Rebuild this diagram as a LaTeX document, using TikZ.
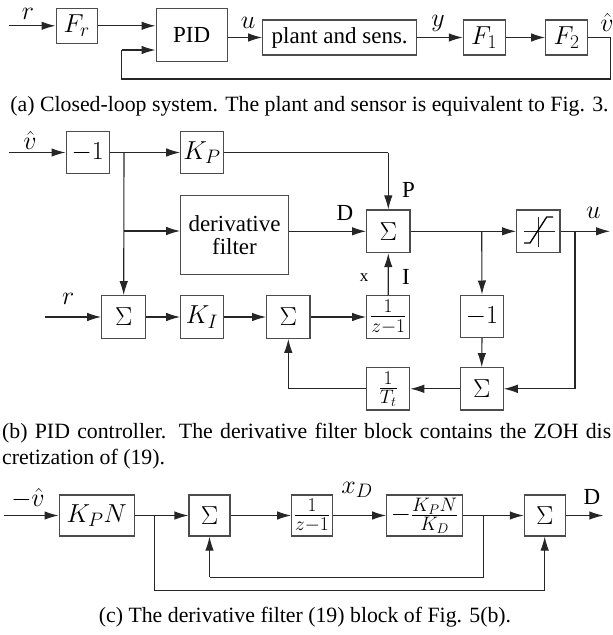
\RequirePackage{fix-cm}
\documentclass[tikz,border=0pt]{standalone}
\usepackage[no-math]{fontspec}
\setmainfont{Liberation Serif}
\DeclareMathSizes{23}{26}{19.5}{14}
\usetikzlibrary{arrows.meta}
\begin{document}
\begin{tikzpicture}[x=1pt,y=-1pt,
  font=\fontsize{23}{27}\selectfont,
  blk/.style={draw=black!70, line width=1.1pt, inner sep=0pt},
  conn/.style={line width=1.1pt, draw=black!85, -{Latex[length=14pt,width=8.5pt]}},
  wire/.style={line width=1.1pt, draw=black!85},
  lbl/.style={inner sep=0pt},
  captxt/.style={inner sep=0pt, font=\fontsize{21.8}{26}\selectfont}]
\useasboundingbox (0,0) rectangle (613,635);

% ---------------- panel (a)
\node[blk, minimum width=41.3pt, minimum height=35pt] (Fr) at (76.7,25.8) {$F_r$};
\node[blk, minimum width=71.3pt, minimum height=52.7pt] (PID) at (191.7,34.7) {PID};
\node[blk, minimum width=154pt, minimum height=35pt] (plant) at (339.7,37.5) {plant and sens.};
\node[blk, minimum width=41.7pt, minimum height=35pt] (F1) at (484.2,37.5) {$F_1$};
\node[blk, minimum width=41.6pt, minimum height=35pt] (F2) at (566.5,37.5) {$F_2$};
\coordinate (ain) at (9,25.8);
\coordinate (aR) at (610.7,37.5);
\coordinate (aRB) at (610.7,79);
\coordinate (aLB) at (121.7,79);
\coordinate (aLT) at (121.7,50);
\node[lbl] (lr) at (28,14) {$r$};
\node[lbl] (lu) at (248,23) {$u$};
\node[lbl] (ly) at (438,23) {$y$};
\node[lbl] (lvh) at (607,22) {$\hat{v}$};
\draw[conn] (ain) -- (Fr.west);
\draw[conn] (Fr.east) -- (Fr.east -| PID.west);
\draw[conn] (PID.east |- plant.west) -- (plant.west);
\draw[conn] (plant.east) -- (F1.west);
\draw[conn] (F1.east) -- (F2.west);
\draw[wire] (F2.east) -- (aR) -- (aRB) -- (aLB) -- (aLT);
\draw[conn] (aLT) -- (aLT -| PID.west);
\node[captxt] (capa) at (309.5,106) {(a) Closed-loop system. The plant and sensor is equivalent to Fig. 3.};

% ---------------- panel (b)
\node[blk, minimum width=43.3pt, minimum height=41.6pt] (m1) at (87.7,152.5) {$-1$};
\node[blk, minimum width=42.6pt, minimum height=41.6pt] (KP) at (202,152.5) {$K_P$};
\node[blk, minimum width=107.6pt, minimum height=78.7pt, align=center] (df) at (234.5,234.7) {derivative\\[-4pt]filter};
\node[blk, minimum width=43.3pt, minimum height=42.7pt] (Sm) at (388.3,231.3) {$\Sigma$};
\node[blk, minimum width=43.3pt, minimum height=42.7pt] (Sat) at (538.3,231.3) {};
\node[blk, minimum width=44pt, minimum height=42.6pt] (S1) at (123.7,317) {$\Sigma$};
\node[blk, minimum width=42.6pt, minimum height=42.6pt] (KI) at (202,317) {$K_I$};
\node[blk, minimum width=43.3pt, minimum height=42.6pt] (S2) at (288.3,317) {$\Sigma$};
\node[blk, minimum width=43pt, minimum height=42.6pt] (Z1) at (388.2,317) {$\frac{1}{z-1}$};
\node[blk, minimum width=42.6pt, minimum height=42.3pt] (m2) at (482,316.2) {$-1$};
\node[blk, minimum width=43pt, minimum height=42.3pt] (S3) at (481.7,388.8) {$\Sigma$};
\node[blk, minimum width=43pt, minimum height=42.3pt] (Tt) at (388.2,388.8) {$\frac{1}{T_t}$};
% saturation symbol
\draw[line width=1pt, black!85] (524,231.3) -- (555,231.3);
\draw[line width=1pt, black!85] (538.5,216.5) -- (538.5,246.5);
\draw[line width=1.3pt, black] (524,243) -- (530,243) -- (546.7,217) -- (553,217);

\coordinate (bin) at (9.3,152.5);
\coordinate (bbr) at (124,152.5);
\coordinate (bbr2) at (124,231);
\coordinate (bKPc) at (388.3,152.5);
\coordinate (bsbr) at (481.7,231.3);
\coordinate (bout) at (610,231.3);
\coordinate (bubr) at (575,231.3);
\coordinate (bub) at (575,388.8);
\coordinate (brin) at (45,317);
\coordinate (btt) at (288.3,388.8);
\node[lbl] (lvb) at (30,140) {$\hat{v}$};
\node[lbl] (lP) at (408.5,190) {P};
\node[lbl] (lD) at (345,213) {D};
\node[lbl] (lub) at (593.3,213) {$u$};
\node[lbl] (lI) at (406,277) {I};
\node[lbl, font=\fontsize{17}{20}\selectfont] (lx) at (364,278) {x};
\node[lbl] (lrb) at (68.3,299) {$r$};
\draw[conn] (bin) -- (m1.west);
\draw[conn] (m1.east) -- (KP.west);
\draw[conn] (bbr) -- (S1.north);
\draw[conn] (bbr2) -- (bbr2 -| df.west);
\draw[wire] (KP.east) -- (bKPc);
\draw[conn] (bKPc) -- (Sm.north);
\draw[conn] (df.east |- Sm.west) -- (Sm.west);
\draw[conn] (Sm.east) -- (Sat.west);
\draw[conn] (bsbr) -- (m2.north);
\draw[conn] (Sat.east) -- (bout);
\draw[wire] (bubr) -- (bub);
\draw[conn] (bub) -- (S3.east);
\draw[conn] (brin) -- (S1.west);
\draw[conn] (S1.east) -- (KI.west);
\draw[conn] (KI.east) -- (S2.west);
\draw[conn] (S2.east) -- (Z1.west);
\draw[conn] (Z1.north) -- (Sm.south);
\draw[conn] (m2.south) -- (S3.north);
\draw[conn] (S3.west) -- (Tt.east);
\draw[wire] (Tt.west) -- (btt);
\draw[conn] (btt) -- (S2.south);
\node[captxt, anchor=west] (capb1) at (2,433) {\makebox[609pt][s]{(b) PID controller. The derivative filter block contains the ZOH dis}};
\node[captxt, anchor=west] (capb2) at (2,459) {cretization of (19).};

% ---------------- panel (c)
\node[blk, minimum width=75.3pt, minimum height=41pt] (KPN) at (96.7,515.5) {$K_PN$};
\node[blk, minimum width=41pt, minimum height=41pt] (Sa) at (209.5,515.5) {$\Sigma$};
\node[blk, minimum width=40.6pt, minimum height=41pt] (Zc) at (312,515.5) {$\frac{1}{z-1}$};
\node[blk, minimum width=75.6pt, minimum height=41pt] (Kc) at (424.5,515.5) {$-\frac{K_PN}{K_D}$};
\node[blk, minimum width=40.7pt, minimum height=41pt] (Sb) at (544.7,515.5) {$\Sigma$};
\coordinate (cin) at (4,515.5);
\coordinate (cbr1) at (154.3,515.5);
\coordinate (cbr2) at (483.3,515.5);
\coordinate (cout) at (603.3,515.5);
\coordinate (cin1) at (483.3,577.3);
\coordinate (cin2) at (209.5,577.3);
\coordinate (cou1) at (154.3,590.7);
\coordinate (cou2) at (544.7,590.7);
\node[lbl] (lmv) at (28,499) {$-\hat{v}$};
\node[lbl] (lxD) at (357,490) {$x_D$};
\node[lbl] (lDc) at (592,497) {D};
\draw[conn] (cin) -- (KPN.west);
\draw[conn] (KPN.east) -- (Sa.west);
\draw[conn] (Sa.east) -- (Zc.west);
\draw[conn] (Zc.east) -- (Kc.west);
\draw[conn] (Kc.east) -- (Sb.west);
\draw[conn] (Sb.east) -- (cout);
\draw[wire] (cbr2) -- (cin1) -- (cin2);
\draw[conn] (cin2) -- (Sa.south);
\draw[wire] (cbr1) -- (cou1) -- (cou2);
\draw[conn] (cou2) -- (Sb.south);
\node[captxt] (capc) at (305,617) {(c) The derivative filter (19) block of Fig. 5(b).};
\end{tikzpicture}
\end{document}
